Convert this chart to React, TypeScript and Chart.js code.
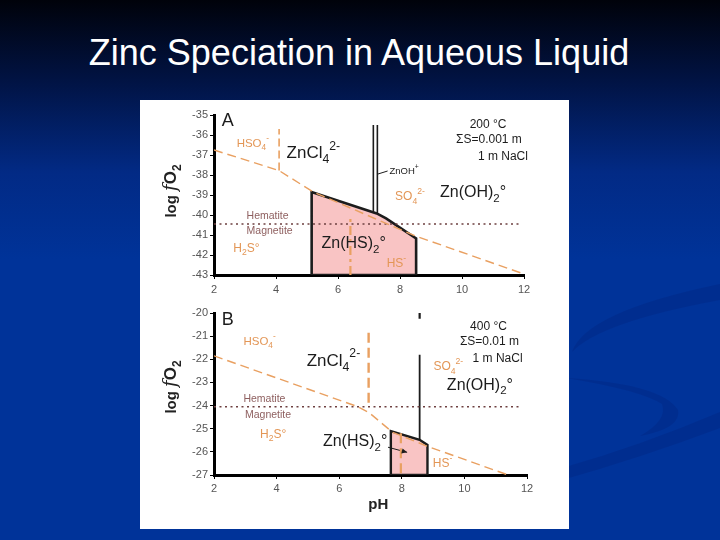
import React, { useEffect, useRef } from "react";
import { Chart, registerables } from "chart.js";
Chart.register(...registerables);

const FONT = '"Liberation Sans", Arial, Helvetica, sans-serif';
const ORANGE = "#e9a061";
const ORANGE_TXT = "#e39656";
const MAUVE = "#8e5f5f";
const DOT = "#6e4040";
const PINK = "#f9c4c4";
const INK = "#1c1c1c";

// ---- axis ticks ----
const pHTicks = [2, 4, 6, 8, 10, 12];
const fO2TicksA = [-35, -36, -37, -38, -39, -40, -41, -42, -43];
const fO2TicksB = [-20, -21, -22, -23, -24, -25, -26, -27];

// ---- Panel A (200 °C) ----
const aSulfX = [2, 4.1, 5.2, 8.5, 12];
const aSulfY = [-36.75, -37.78, -38.85, -41.05, -42.95];
const aHSO4X = [4.1, 4.1];
const aHSO4Y = [-37.78, -35.7];
const aH2SX = [6.4, 6.4];
const aH2SY = [-43, -40.1];
const aHemX = [2, 11.9];
const aHemY = [-40.45, -40.45];
const aZnHSX = [5.15, 5.15, 7.25, 7.55, 8.52, 8.52, 5.15];
const aZnHSY = [-43, -38.85, -39.92, -40.17, -41.17, -43, -43];
const aZnOH1X = [7.14, 7.14];
const aZnOH1Y = [-35.5, -39.87];
const aZnOH2X = [7.27, 7.27];
const aZnOH2Y = [-35.5, -39.93];
const aLeadX = [7.29, 7.6];
const aLeadY = [-37.95, -37.8];

// ---- Panel B (400 °C) ----
const bSulfX = [2, 6.6, 6.95, 7.7, 8.8, 11.4];
const bSulfY = [-21.85, -24.05, -24.3, -25.15, -25.75, -27];
const bHSO4X = [6.94, 6.94];
const bHSO4Y = [-20.85, -24.05];
const bH2SX = [7.97, 7.97];
const bH2SY = [-25.2, -27];
const bHemX = [2, 11.8];
const bHemY = [-24.05, -24.05];
const bZnHSX = [7.65, 7.65, 8.57, 8.82, 8.82, 7.65];
const bZnHSY = [-27, -25.1, -25.48, -25.7, -27, -27];
const bZnOHX = [8.57, 8.57];
const bZnOHY = [-21.8, -25.48];
const bTopX = [8.57, 8.57];
const bTopY = [-20, -20.25];
const bArrowX = [7.56, 8.17];
const bArrowY = [-25.8, -26.02];

type Lbl = { t: string; x: number; y: number; s: number; c: string; a: "left" | "center" };

const labelsA: Lbl[] = [
  { t: "A", x: 2.25, y: -35.28, s: 18, c: INK, a: "left" },
  { t: "HSO_4^-", x: 2.73, y: -36.42, s: 11.5, c: ORANGE_TXT, a: "left" },
  { t: "ZnCl_4^{2-}", x: 4.34, y: -36.92, s: 17, c: INK, a: "left" },
  { t: "200 °C", x: 10.84, y: -35.5, s: 12, c: INK, a: "center" },
  { t: "ΣS=0.001 m", x: 10.87, y: -36.25, s: 12, c: INK, a: "center" },
  { t: "1 m NaCl", x: 11.32, y: -37.08, s: 12, c: INK, a: "center" },
  { t: "ZnOH^+", x: 7.66, y: -37.8, s: 9.5, c: INK, a: "left" },
  { t: "SO_4^{2-}", x: 7.84, y: -39.08, s: 12, c: ORANGE_TXT, a: "left" },
  { t: "Zn(OH)_2°", x: 9.29, y: -38.88, s: 16, c: INK, a: "left" },
  { t: "Hematite", x: 3.05, y: -40.08, s: 10.5, c: MAUVE, a: "left" },
  { t: "Magnetite", x: 3.05, y: -40.83, s: 10.5, c: MAUVE, a: "left" },
  { t: "H_2S°", x: 2.62, y: -41.67, s: 12, c: ORANGE_TXT, a: "left" },
  { t: "Zn(HS)_2°", x: 5.47, y: -41.42, s: 16, c: INK, a: "left" },
  { t: "HS^-", x: 7.57, y: -42.45, s: 12, c: ORANGE_TXT, a: "left" },
];

const labelsB: Lbl[] = [
  { t: "B", x: 2.25, y: -20.3, s: 18, c: INK, a: "left" },
  { t: "HSO_4^-", x: 2.94, y: -21.24, s: 11.5, c: ORANGE_TXT, a: "left" },
  { t: "ZnCl_4^{2-}", x: 4.96, y: -22.08, s: 17, c: INK, a: "left" },
  { t: "400 °C", x: 10.77, y: -20.59, s: 12, c: INK, a: "center" },
  { t: "ΣS=0.01 m", x: 10.8, y: -21.24, s: 12, c: INK, a: "center" },
  { t: "SO_4^{2-}", x: 9.01, y: -22.32, s: 12, c: ORANGE_TXT, a: "left" },
  { t: "1 m NaCl", x: 11.06, y: -21.96, s: 12, c: INK, a: "center" },
  { t: "Zn(OH)_2°", x: 9.44, y: -23.12, s: 16, c: INK, a: "left" },
  { t: "Hematite", x: 2.94, y: -23.72, s: 10.5, c: MAUVE, a: "left" },
  { t: "Magnetite", x: 2.99, y: -24.42, s: 10.5, c: MAUVE, a: "left" },
  { t: "H_2S°", x: 3.47, y: -25.25, s: 12, c: ORANGE_TXT, a: "left" },
  { t: "Zn(HS)_2°", x: 5.48, y: -25.57, s: 16, c: INK, a: "left" },
  { t: "HS^-", x: 8.99, y: -26.51, s: 12, c: ORANGE_TXT, a: "left" },
];

type Part = { t: string; k: number };
function parseRich(s: string): Part[] {
  const parts: Part[] = [];
  let i = 0;
  while (i < s.length) {
    const c = s[i];
    if (c === "_" || c === "^") {
      const k = c === "_" ? 1 : -1;
      i++;
      let t = "";
      if (s[i] === "{") {
        const j = s.indexOf("}", i);
        t = s.slice(i + 1, j);
        i = j + 1;
      } else {
        t = s[i];
        i++;
      }
      parts.push({ t, k });
    } else {
      let t = "";
      while (i < s.length && s[i] !== "_" && s[i] !== "^") {
        t += s[i];
        i++;
      }
      parts.push({ t, k: 0 });
    }
  }
  return parts;
}

function drawRich(ctx: CanvasRenderingContext2D, text: string, px: number, py: number, size: number, color: string, align: string) {
  const parts = parseRich(text);
  ctx.save();
  ctx.fillStyle = color;
  ctx.textBaseline = "middle";
  ctx.textAlign = "left";
  const fontFor = (k: number) => `${k === 0 ? size : size * 0.72}px ${FONT}`;
  const widths = parts.map((p) => {
    ctx.font = fontFor(p.k);
    return ctx.measureText(p.t).width;
  });
  const total = widths.reduce((a, b) => a + b, 0);
  let cx = align === "center" ? px - total / 2 : px;
  parts.forEach((p, i) => {
    ctx.font = fontFor(p.k);
    const dy = p.k === 1 ? size * 0.38 : p.k === -1 ? -size * 0.42 : 0;
    ctx.fillText(p.t, cx, py + dy);
    cx += widths[i];
  });
  ctx.restore();
}

function drawYTitle(ctx: CanvasRenderingContext2D, cx: number, cy: number) {
  const segs: [string, string, number][] = [
    ["log ", `bold 15px ${FONT}`, 0],
    ["f", `italic 18px "DejaVu Serif", "Liberation Serif", serif`, 0],
    ["O", `bold 17px ${FONT}`, 0],
    ["2", `bold 12px ${FONT}`, 5],
  ];
  ctx.save();
  ctx.translate(cx, cy);
  ctx.rotate(-Math.PI / 2);
  ctx.fillStyle = "#222";
  ctx.textBaseline = "alphabetic";
  ctx.textAlign = "left";
  const ws = segs.map((s) => {
    ctx.font = s[1];
    return ctx.measureText(s[0]).width;
  });
  const total = ws.reduce((a, b) => a + b, 0);
  let x = -total / 2;
  segs.forEach((s, i) => {
    ctx.font = s[1];
    ctx.fillText(s[0], x, 6 + s[2]);
    x += ws[i];
  });
  ctx.restore();
}

const pts = (xs: number[], ys: number[]) => xs.map((x, i) => ({ x, y: ys[i] }));
const line = (xs: number[], ys: number[], style: any) => ({
  data: pts(xs, ys),
  showLine: true,
  pointRadius: 0,
  pointHoverRadius: 0,
  fill: false,
  tension: 0,
  ...style,
});

type Spec = {
  datasets: any[];
  yMin: number;
  yMax: number;
  yTicks: number[];
  padding: any;
  xh: number;
  xPad: number;
  labels: Lbl[];
  titleY: number;
  arrow?: { xs: number[]; ys: number[] };
  pH?: number;
};

function makeChart(canvas: HTMLCanvasElement, spec: Spec) {
  const annot = {
    id: "annot",
    afterDatasetsDraw(chart: any) {
      const { ctx } = chart;
      const xs = chart.scales.x;
      const ys = chart.scales.y;
      spec.labels.forEach((l) =>
        drawRich(ctx, l.t, xs.getPixelForValue(l.x), ys.getPixelForValue(l.y), l.s, l.c, l.a)
      );
      if (spec.arrow) {
        const n = spec.arrow.xs.length;
        const x1 = xs.getPixelForValue(spec.arrow.xs[n - 2]);
        const y1 = ys.getPixelForValue(spec.arrow.ys[n - 2]);
        const x2 = xs.getPixelForValue(spec.arrow.xs[n - 1]);
        const y2 = ys.getPixelForValue(spec.arrow.ys[n - 1]);
        const ang = Math.atan2(y2 - y1, x2 - x1);
        ctx.save();
        ctx.fillStyle = INK;
        ctx.beginPath();
        ctx.moveTo(x2, y2);
        ctx.lineTo(x2 - 6 * Math.cos(ang - 0.45), y2 - 6 * Math.sin(ang - 0.45));
        ctx.lineTo(x2 - 6 * Math.cos(ang + 0.45), y2 - 6 * Math.sin(ang + 0.45));
        ctx.closePath();
        ctx.fill();
        ctx.restore();
      }
    },
    afterDraw(chart: any) {
      const { ctx } = chart;
      drawYTitle(ctx, 30, spec.titleY);
      if (spec.pH !== undefined) {
        ctx.save();
        ctx.font = `bold 15px ${FONT}`;
        ctx.fillStyle = "#222";
        ctx.textAlign = "center";
        ctx.textBaseline = "middle";
        ctx.fillText("pH", chart.scales.x.getPixelForValue(spec.pH), 209);
        ctx.restore();
      }
    },
  };

  return new Chart(canvas, {
    type: "scatter",
    data: { datasets: spec.datasets },
    options: {
      animation: false,
      responsive: false,
      devicePixelRatio: 1,
      events: [],
      layout: { padding: spec.padding },
      plugins: { legend: { display: false }, tooltip: { enabled: false } },
      scales: {
        x: {
          type: "linear",
          min: 2,
          max: 12,
          afterBuildTicks: (s: any) => {
            s.ticks = pHTicks.map((v) => ({ value: v }));
          },
          grid: { drawOnChartArea: false, drawTicks: true, tickLength: 4, color: "#000", lineWidth: 1 },
          border: { display: true, color: "#000", width: 3 },
          ticks: { color: "#555", font: { size: 11, family: FONT }, padding: spec.xPad, maxRotation: 0, autoSkip: false },
          afterFit: (s: any) => {
            s.height = spec.xh;
          },
        },
        y: {
          type: "linear",
          min: spec.yMin,
          max: spec.yMax,
          afterBuildTicks: (s: any) => {
            s.ticks = spec.yTicks.map((v) => ({ value: v }));
          },
          grid: { drawOnChartArea: false, drawTicks: true, tickLength: 4, color: "#000", lineWidth: 1 },
          border: { display: true, color: "#000", width: 3 },
          ticks: { color: "#555", font: { size: 11, family: FONT }, padding: 2, autoSkip: false },
          afterFit: (s: any) => {
            s.width = 74;
          },
        },
      },
    } as any,
    plugins: [annot],
  });
}

export default function App() {
  const aRef = useRef<HTMLCanvasElement>(null);
  const bRef = useRef<HTMLCanvasElement>(null);

  useEffect(() => {
    const chartA = makeChart(aRef.current!, {
      datasets: [
        line(aSulfX, aSulfY, { borderColor: ORANGE, borderWidth: 1.4, borderDash: [9, 5] }),
        line(aHSO4X, aHSO4Y, { borderColor: ORANGE, borderWidth: 1.6, borderDash: [8, 4] }),
        line(aH2SX, aH2SY, { borderColor: ORANGE, borderWidth: 2.2, borderDash: [9, 4, 3, 4] }),
        line(aHemX, aHemY, { borderColor: DOT, borderWidth: 1.6, borderDash: [2, 3.5] }),
        line(aZnOH1X, aZnOH1Y, { borderColor: INK, borderWidth: 1.6 }),
        line(aZnOH2X, aZnOH2Y, { borderColor: INK, borderWidth: 1.6 }),
        line(aLeadX, aLeadY, { borderColor: INK, borderWidth: 1 }),
        line(aZnHSX, aZnHSY, { borderColor: INK, borderWidth: 2.6, fill: "shape", backgroundColor: PINK }),
      ],
      yMin: -43,
      yMax: -35,
      yTicks: fO2TicksA,
      padding: { left: 0, top: 15, right: 45, bottom: 0 },
      xh: 21,
      xPad: 4,
      labels: labelsA,
      titleY: 91,
    });
    const chartB = makeChart(bRef.current!, {
      datasets: [
        line(bSulfX, bSulfY, { borderColor: ORANGE, borderWidth: 1.4, borderDash: [9, 5] }),
        line(bHSO4X, bHSO4Y, { borderColor: ORANGE, borderWidth: 2.4, borderDash: [10, 5] }),
        line(bH2SX, bH2SY, { borderColor: ORANGE, borderWidth: 2.2, borderDash: [10, 5] }),
        line(bHemX, bHemY, { borderColor: DOT, borderWidth: 1.6, borderDash: [2, 3.5] }),
        line(bZnOHX, bZnOHY, { borderColor: INK, borderWidth: 1.8 }),
        line(bTopX, bTopY, { borderColor: INK, borderWidth: 2.2 }),
        line(bArrowX, bArrowY, { borderColor: INK, borderWidth: 1 }),
        line(bZnHSX, bZnHSY, { borderColor: INK, borderWidth: 2.4, fill: "shape", backgroundColor: PINK }),
      ],
      yMin: -27,
      yMax: -20,
      yTicks: fO2TicksB,
      padding: { left: 0, top: 17, right: 42, bottom: 0 },
      xh: 53,
      xPad: 3,
      labels: labelsB,
      titleY: 91,
      arrow: { xs: bArrowX, ys: bArrowY },
      pH: 7.25,
    });
    return () => {
      chartA.destroy();
      chartB.destroy();
    };
  }, []);

  return (
    <div
      style={{
        position: "absolute",
        left: 0,
        top: 0,
        width: 720,
        height: 540,
        overflow: "hidden",
        background: "linear-gradient(to bottom, #00020a 0%, #011240 14%, #022a85 32%, #003399 48%, #003399 100%)",
      }}
    >
      <svg width={720} height={540} style={{ position: "absolute", left: 0, top: 0 }}>
        <path d="M 572 352 Q 585 312 720 284 L 720 300 Q 600 322 572 352 Z" fill="rgba(0,20,100,0.18)" />
        <path d="M 566 378 Q 662 384 678 410 Q 682 428 640 436 Q 668 420 662 404 Q 640 390 566 378 Z" fill="rgba(0,20,100,0.18)" />
        <path d="M 562 468 Q 640 446 720 412 L 720 428 Q 640 458 562 480 Z" fill="rgba(0,20,100,0.18)" />
      </svg>
      <div
        style={{
          position: "absolute",
          left: 0,
          top: 35,
          width: 718,
          textAlign: "center",
          color: "#fff",
          font: `36px ${FONT}`,
          lineHeight: "36px",
        }}
      >
        Zinc Speciation in Aqueous Liquid
      </div>
      <div style={{ position: "absolute", left: 140, top: 100, width: 429, height: 429, background: "#fff" }} />
      <canvas ref={aRef} width={429} height={196} style={{ position: "absolute", left: 140, top: 100 }} />
      <canvas ref={bRef} width={429} height={232} style={{ position: "absolute", left: 140, top: 296 }} />
    </div>
  );
}
